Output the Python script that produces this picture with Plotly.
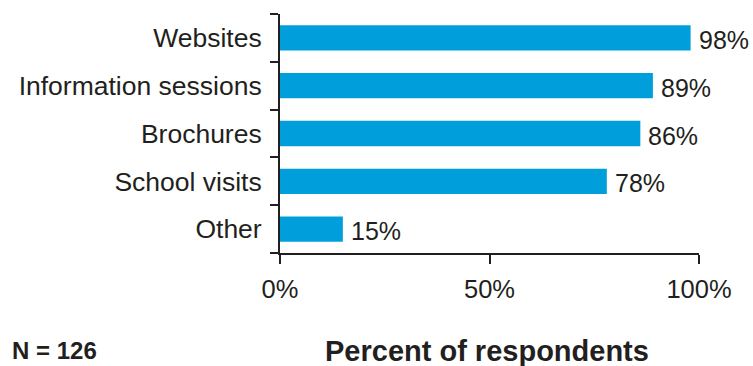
import plotly.graph_objects as go

# Survey: information sources used by respondents
categories = ["Websites", "Information sessions", "Brochures", "School visits", "Other"]
percents = [98, 89, 86, 78, 15]
x_ticks = [0, 50, 100]
x_tick_labels = ["0%", "50%", "100%"]
sample_note = "N = 126"
x_title = "Percent of respondents"

BAR_COLOR = "#009FDB"
TEXT_COLOR = "#231F20"
FONT = "Liberation Sans, Arial, sans-serif"

fig = go.Figure(
    go.Bar(
        x=percents,
        y=categories,
        orientation="h",
        marker=dict(color=BAR_COLOR, line=dict(width=0)),
        width=0.53,
        hoverinfo="skip",
    )
)

# value labels to the right of each bar
for cat, val in zip(categories, percents):
    fig.add_annotation(
        x=val, y=cat, xref="x", yref="y",
        text=f"{val}%", showarrow=False,
        xanchor="left", yanchor="middle", xshift=6, yshift=-2,
        font=dict(family=FONT, size=25, color=TEXT_COLOR),
    )

# footer texts below the x axis
fig.add_annotation(
    x=-0.644, y=-0.408, xref="paper", yref="paper", text=f"<b>{sample_note}</b>",
    showarrow=False, xanchor="left", yanchor="middle",
    font=dict(family=FONT, size=24, color=TEXT_COLOR),
)
fig.add_annotation(
    x=0.495, y=-0.408, xref="x domain", yref="paper", text=f"<b>{x_title}</b>",
    showarrow=False, xanchor="center", yanchor="middle",
    font=dict(family=FONT, size=29, color=TEXT_COLOR),
)

fig.update_layout(
    width=753, height=366,
    margin=dict(l=280, r=54, t=14, b=113),
    paper_bgcolor="white", plot_bgcolor="white",
    showlegend=False,
    bargap=0.47,
    font=dict(family=FONT, size=25, color=TEXT_COLOR),
    xaxis=dict(
        range=[0, 100], tickvals=x_ticks, ticktext=x_tick_labels,
        showgrid=False, zeroline=False,
        showline=True, linecolor="#231F20", linewidth=2,
        ticks="outside", ticklen=9, tickwidth=2, tickcolor="#231F20",
        ticklabelstandoff=3,
        tickfont=dict(family=FONT, size=25.5, color=TEXT_COLOR),
        fixedrange=True,
    ),
    yaxis=dict(
        categoryorder="array", categoryarray=categories[::-1],
        showgrid=False, zeroline=False,
        showline=True, linecolor="#231F20", linewidth=2,
        ticks="outside", ticklen=8, tickwidth=2, tickcolor="#231F20",
        tickson="boundaries",
        ticklabelstandoff=11,
        tickfont=dict(family=FONT, size=26.5, color=TEXT_COLOR),
        fixedrange=True,
    ),
)

fig.write_html("out.html")
